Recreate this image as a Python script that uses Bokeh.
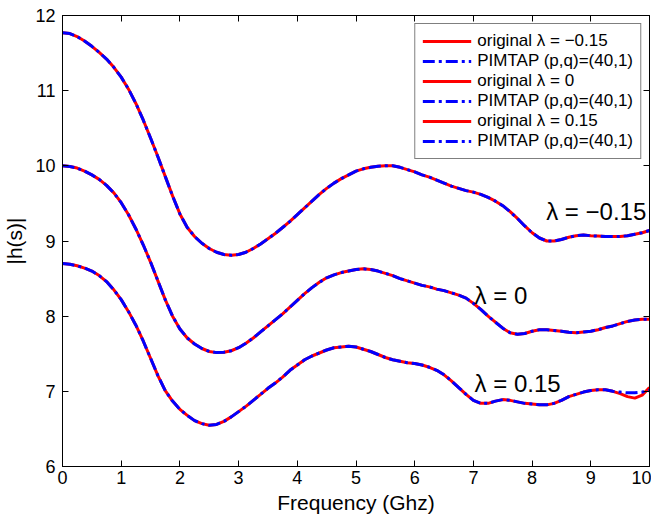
from bokeh.plotting import figure
from bokeh.models import (Range1d, LinearAxis, FixedTicker, Legend, LegendItem, Label)
from bokeh.embed import file_html
from bokeh.resources import INLINE

# ---------------- data ----------------
freq = [0.0, 0.125, 0.25, 0.375, 0.5, 0.625, 0.75, 0.875, 1.0, 1.125,
        1.25, 1.375, 1.5, 1.625, 1.75, 1.875, 2.0, 2.125, 2.25, 2.375,
        2.5, 2.625, 2.75, 2.875, 3.0, 3.125, 3.25, 3.375, 3.5, 3.625,
        3.75, 3.875, 4.0, 4.125, 4.25, 4.375, 4.5, 4.625, 4.75, 4.875,
        5.0, 5.125, 5.25, 5.375, 5.5, 5.625, 5.75, 5.875, 6.0, 6.125,
        6.25, 6.375, 6.5, 6.625, 6.75, 6.875, 7.0, 7.125, 7.25, 7.375,
        7.5, 7.625, 7.75, 7.875, 8.0, 8.125, 8.25, 8.375, 8.5, 8.625,
        8.75, 8.875, 9.0, 9.125, 9.25, 9.375, 9.5, 9.625, 9.75, 9.875,
        10.0]

orig_m015 = [11.77, 11.76, 11.72, 11.66, 11.59, 11.51, 11.42, 11.31, 11.18, 11.02,
             10.83, 10.61, 10.37, 10.12, 9.86, 9.60, 9.36, 9.18, 9.06, 8.97,
             8.90, 8.85, 8.82, 8.81, 8.82, 8.85, 8.90, 8.96, 9.03, 9.10,
             9.18, 9.26, 9.35, 9.44, 9.53, 9.62, 9.70, 9.77, 9.83, 9.88,
             9.93, 9.96, 9.98, 9.995, 10.00, 10.00, 9.98, 9.95, 9.92, 9.88,
             9.85, 9.81, 9.77, 9.73, 9.70, 9.67, 9.65, 9.62, 9.58, 9.53,
             9.47, 9.39, 9.30, 9.20, 9.11, 9.04, 9.00, 9.00, 9.02, 9.05,
             9.07, 9.08, 9.07, 9.065, 9.06, 9.06, 9.06, 9.07, 9.09, 9.11,
             9.14]
pim_m015 = list(orig_m015)

orig_0 = [10.00, 9.99, 9.97, 9.93, 9.88, 9.82, 9.74, 9.64, 9.51, 9.35,
          9.16, 8.95, 8.72, 8.47, 8.22, 8.00, 7.83, 7.71, 7.63, 7.57,
          7.53, 7.515, 7.52, 7.54, 7.58, 7.64, 7.71, 7.79, 7.87, 7.95,
          8.03, 8.12, 8.21, 8.30, 8.38, 8.45, 8.51, 8.55, 8.58, 8.60,
          8.62, 8.63, 8.62, 8.60, 8.57, 8.54, 8.50, 8.47, 8.44, 8.41,
          8.39, 8.36, 8.34, 8.31, 8.28, 8.24, 8.17, 8.09, 8.00, 7.92,
          7.84, 7.78, 7.76, 7.77, 7.80, 7.82, 7.82, 7.81, 7.80, 7.785,
          7.78, 7.79, 7.80, 7.82, 7.85, 7.87, 7.90, 7.93, 7.95, 7.96,
          7.96]
pim_0 = list(orig_0)

orig_p015 = [8.70, 8.69, 8.67, 8.64, 8.60, 8.54, 8.46, 8.35, 8.22, 8.06,
             7.88, 7.67, 7.44, 7.21, 7.01, 6.87, 6.76, 6.68, 6.61, 6.57,
             6.55, 6.56, 6.60, 6.66, 6.73, 6.80, 6.88, 6.96, 7.04, 7.11,
             7.19, 7.28, 7.35, 7.42, 7.47, 7.51, 7.55, 7.58, 7.59, 7.60,
             7.59, 7.56, 7.53, 7.49, 7.45, 7.42, 7.40, 7.38, 7.37, 7.35,
             7.32, 7.28, 7.22, 7.14, 7.05, 6.96, 6.88, 6.84, 6.84, 6.87,
             6.89, 6.88, 6.86, 6.84, 6.83, 6.82, 6.82, 6.84, 6.88, 6.93,
             6.96, 6.99, 7.01, 7.02, 7.02, 7.00, 6.97, 6.93, 6.91, 6.95,
             7.05]
pim_p015 = [8.70, 8.69, 8.67, 8.64, 8.60, 8.54, 8.46, 8.35, 8.22, 8.06,
            7.88, 7.67, 7.44, 7.21, 7.01, 6.87, 6.76, 6.68, 6.61, 6.57,
            6.55, 6.56, 6.60, 6.66, 6.73, 6.80, 6.88, 6.96, 7.04, 7.11,
            7.19, 7.28, 7.35, 7.42, 7.47, 7.51, 7.55, 7.58, 7.59, 7.60,
            7.59, 7.56, 7.53, 7.49, 7.45, 7.42, 7.40, 7.38, 7.37, 7.35,
            7.32, 7.28, 7.22, 7.14, 7.05, 6.96, 6.88, 6.84, 6.84, 6.87,
            6.89, 6.88, 6.86, 6.84, 6.83, 6.82, 6.82, 6.84, 6.88, 6.93,
            6.96, 6.99, 7.01, 7.02, 7.02, 7.00, 6.99, 6.98, 6.98, 6.99,
            7.01]

orig_labels = ["original \u03bb = \u22120.15", "original \u03bb = 0", "original \u03bb = 0.15"]
pim_label = "PIMTAP (p,q)=(40,1)"
curve_labels = ["\u03bb = \u22120.15", "\u03bb = 0", "\u03bb = 0.15"]
label_x = [8.24, 7.02, 7.02]
label_y = [9.39, 8.27, 7.10]

x_ticks = [0, 1, 2, 3, 4, 5, 6, 7, 8, 9, 10]
y_ticks = [6, 7, 8, 9, 10, 11, 12]

FONT = "Liberation Sans"

p = figure(frame_width=587, frame_height=451, output_backend="svg", toolbar_location=None,
           x_range=Range1d(0, 10), y_range=Range1d(6, 12),
           min_border_left=55, min_border_right=2, min_border_top=15, min_border_bottom=49,
           x_axis_label="Frequency (Ghz)", y_axis_label="|h(s)|")
p.background_fill_color = "white"
p.border_fill_color = "white"
p.outline_line_color = "black"
p.outline_line_width = 1
p.xgrid.visible = False
p.ygrid.visible = False

for ax, ticks in ((p.xaxis[0], x_ticks), (p.yaxis[0], y_ticks)):
    ax.ticker = FixedTicker(ticks=ticks)
    ax.major_tick_in = 6
    ax.major_tick_out = 0
    ax.minor_tick_in = 0
    ax.minor_tick_out = 0
    ax.axis_line_color = "black"
    ax.major_tick_line_color = "black"
    ax.major_label_text_font = FONT
    ax.major_label_text_font_size = "18px"
    ax.major_label_text_color = "black"
    ax.axis_label_text_font = FONT
    ax.axis_label_text_font_size = "21px"
    ax.axis_label_text_font_style = "normal"
    ax.axis_label_text_color = "black"

p.xaxis[0].major_label_standoff = 4
p.xaxis[0].axis_label_standoff = 4
p.yaxis[0].major_label_standoff = 7
p.yaxis[0].axis_label_standoff = 6

# mirror axes (ticks only)
for loc, ticks in (("above", x_ticks), ("right", y_ticks)):
    ax = LinearAxis(ticker=FixedTicker(ticks=ticks))
    ax.major_tick_in = 6
    ax.major_tick_out = 0
    ax.minor_tick_in = 0
    ax.minor_tick_out = 0
    ax.major_label_text_font_size = "0px"
    ax.major_label_text_alpha = 0
    ax.major_label_standoff = 0
    ax.axis_line_color = "black"
    p.add_layout(ax, loc)

items = []
series = [(orig_m015, pim_m015), (orig_0, pim_0), (orig_p015, pim_p015)]
for (orig, pim), olab in zip(series, orig_labels):
    r1 = p.line(freq, orig, line_color="#ff0000", line_width=3, line_join="round")
    r2 = p.line(freq, pim, line_color="#0000ff", line_width=3, line_dash="12 4 3 4",
                line_join="round")
    items.append(LegendItem(label=olab, renderers=[r1]))
    items.append(LegendItem(label=pim_label, renderers=[r2]))

for t, lx, ly in zip(curve_labels, label_x, label_y):
    p.add_layout(Label(x=lx, y=ly, text=t, text_font=FONT, text_font_size="24px",
                       text_color="black", text_baseline="middle", text_align="left"))

legend = Legend(items=items, location="top_right")
legend.margin = 8
legend.padding = 7
legend.spacing = 0
legend.label_height = 20
legend.glyph_height = 20
legend.glyph_width = 49
legend.label_standoff = 6
legend.label_text_font = FONT
legend.label_text_font_size = "17px"
legend.label_text_color = "black"
legend.border_line_color = "black"
legend.border_line_width = 1
legend.background_fill_color = "white"
legend.background_fill_alpha = 1
p.add_layout(legend)

open("out.html", "w").write(file_html(p, INLINE))
